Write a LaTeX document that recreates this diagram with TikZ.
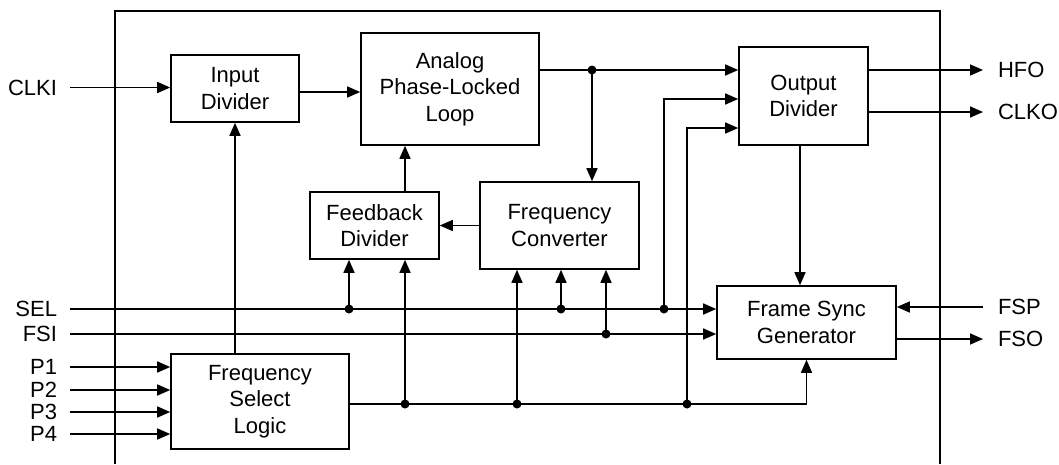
\documentclass[tikz,border=0pt]{standalone}
\usepackage{fontspec}
\setmainfont{Liberation Sans}
\usetikzlibrary{arrows.meta,calc}
\begin{document}
\begin{tikzpicture}[x=1pt,y=-1pt,
  line width=1.6pt,
  blk/.style={draw, align=center, inner sep=0pt, font=\fontsize{22}{26.6}\selectfont},
  lbll/.style={anchor=east, inner xsep=6.5pt, outer xsep=6.5pt, inner ysep=0pt, text depth=0pt, font=\fontsize{22}{26}\selectfont},
  lblr/.style={anchor=west, inner xsep=7.5pt, outer xsep=7.5pt, inner ysep=0pt, text depth=0pt, font=\fontsize{22}{26}\selectfont},
  arr/.style={-{Triangle[length=13pt,width=11pt]}},
  dot/.style={circle, fill, inner sep=0pt, minimum size=9pt}]
\useasboundingbox (0,0) rectangle (1059,464);
% frame
\draw (115,464) -- (115,11) -- (940,11) -- (940,464);
% blocks
\node[blk, minimum width=128pt, minimum height=67pt] (ind) at (235,88.5) {Input\\Divider};
\node[blk, minimum width=178pt, minimum height=112pt] (pll) at (450,89) {Analog\\Phase-Locked\\Loop};
\node[blk, minimum width=129pt, minimum height=98pt] (od) at (803.5,96) {Output\\Divider};
\node[blk, minimum width=129pt, minimum height=67pt] (fb) at (374.5,225.5) {Feedback\\Divider};
\node[blk, minimum width=159pt, minimum height=87pt] (fc) at (559.5,225.5) {Frequency\\Converter};
\node[blk, minimum width=179pt, minimum height=73pt] (fsg) at (806.5,322.5) {Frame Sync\\Generator};
\node[blk, minimum width=178pt, minimum height=95pt] (fsl) at (260,401.5) {Frequency\\Select\\Logic};
% labels
\node[lbll] (clki) at (70,87.5) {CLKI};
\node[lbll] (sel) at (70,309) {SEL};
\node[lbll] (fsi) at (70,334) {FSI};
\node[lbll] (p1) at (70,367) {P1};
\node[lbll] (p2) at (70,390) {P2};
\node[lbll] (p3) at (70,412) {P3};
\node[lbll] (p4) at (70,434) {P4};
\node[lblr] (hfo) at (983,70) {HFO};
\node[lblr] (clko) at (983,112) {CLKO};
\node[lblr] (fsp) at (983,307) {FSP};
\node[lblr] (fso) at (983,339) {FSO};
% junctions
\coordinate (j1) at (592,70);
\coordinate (s1) at (349,309);
\coordinate (s2) at (561,309);
\coordinate (s3) at (664,309);
\coordinate (f1) at (606,334);
\coordinate (b1) at (405,404);
\coordinate (b2) at (517,404);
\coordinate (b3) at (687,404);
\coordinate (o2) at ($(od.west)+(0,3)$);
\coordinate (o3) at ($(od.west)+(0,32)$);
\coordinate (odd) at ($(od.south)+(-3.5,0)$);
% connectors
\draw[arr] (clki.east) -- (ind.west|-clki.east);
\draw[arr] ($(ind.east)+(0,3.5)$) -- (pll.west|-0,92);
\draw[arr] (pll.east|-j1) -- (od.west|-j1);
\draw[arr] (j1) -- (fc.north-|j1);
\draw[arr] (od.east|-j1) -- (hfo.west);
\draw[arr] (od.east|-clko.west) -- (clko.west);
\draw[arr] (fc.west) -- (fb.east);
\draw[arr] (fb.north-|b1) -- (pll.south-|b1);
\draw[arr] (odd) -- (fsg.north-|odd);
\draw[arr] (sel.east) -- (fsg.west|-sel.east);
\draw[arr] (fsi.east) -- (fsg.west|-fsi.east);
\draw[arr] (fsp.west) -- (fsg.east|-fsp.west);
\draw[arr] (fsg.east|-fso.west) -- (fso.west);
\draw[arr] (p1.east) -- (fsl.west|-p1.east);
\draw[arr] (p2.east) -- (fsl.west|-p2.east);
\draw[arr] (p3.east) -- (fsl.west|-p3.east);
\draw[arr] (p4.east) -- (fsl.west|-p4.east);
\draw[arr] (fsl.north-|ind.south) -- (ind.south);
\draw[arr] (fsl.east|-b1) -| (fsg.south);
\draw[arr] (s1) -- (fb.south-|s1);
\draw[arr] (b1) -- (fb.south-|b1);
\draw[arr] (b2) -- (fc.south-|b2);
\draw[arr] (s2) -- (fc.south-|s2);
\draw[arr] (f1) -- (fc.south-|f1);
\draw[arr] (s3) |- (o2);
\draw[arr] (b3) |- (o3);
% dots
\foreach \p in {j1,s1,s2,s3,f1,b1,b2,b3} \node[dot] at (\p) {};
\end{tikzpicture}
\end{document}
